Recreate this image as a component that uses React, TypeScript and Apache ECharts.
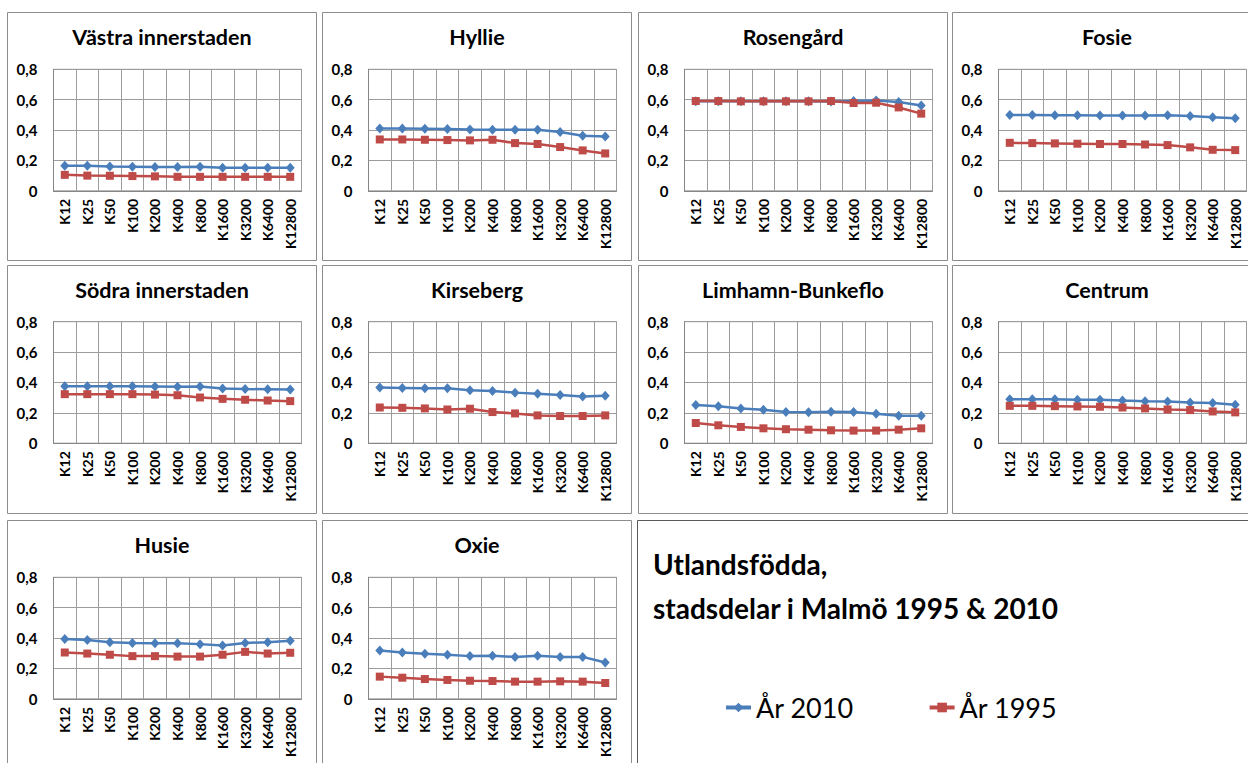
import React, { useEffect, useRef } from 'react';
import * as echarts from 'echarts';

const categories = ['K12', 'K25', 'K50', 'K100', 'K200', 'K400', 'K800', 'K1600', 'K3200', 'K6400', 'K12800'];
const yTickValues = [0, 0.2, 0.4, 0.6, 0.8];
const seriesNames = ['År 2010', 'År 1995'];
const districts = [
  'Västra innerstaden', 'Hyllie', 'Rosengård', 'Fosie',
  'Södra innerstaden', 'Kirseberg', 'Limhamn-Bunkeflo', 'Centrum',
  'Husie', 'Oxie',
];
const mainTitleLines = ['Utlandsfödda,', 'stadsdelar i Malmö 1995 & 2010'];

const vastra2010 = [0.165, 0.165, 0.16, 0.158, 0.156, 0.156, 0.158, 0.152, 0.152, 0.152, 0.152];
const vastra1995 = [0.105, 0.1, 0.099, 0.097, 0.095, 0.092, 0.092, 0.092, 0.092, 0.092, 0.092];
const hyllie2010 = [0.411, 0.411, 0.409, 0.407, 0.404, 0.402, 0.402, 0.402, 0.387, 0.363, 0.358];
const hyllie1995 = [0.338, 0.338, 0.336, 0.334, 0.332, 0.336, 0.314, 0.308, 0.288, 0.266, 0.246];
const rosengard2010 = [0.59, 0.59, 0.59, 0.59, 0.59, 0.59, 0.588, 0.592, 0.595, 0.585, 0.562];
const rosengard1995 = [0.591, 0.591, 0.589, 0.589, 0.589, 0.589, 0.591, 0.578, 0.58, 0.549, 0.508];
const fosie2010 = [0.499, 0.499, 0.497, 0.497, 0.495, 0.495, 0.495, 0.497, 0.492, 0.484, 0.477];
const fosie1995 = [0.316, 0.314, 0.312, 0.31, 0.308, 0.308, 0.305, 0.301, 0.286, 0.27, 0.268];
const sodra2010 = [0.375, 0.375, 0.375, 0.375, 0.373, 0.371, 0.373, 0.36, 0.357, 0.355, 0.353];
const sodra1995 = [0.323, 0.323, 0.323, 0.323, 0.32, 0.316, 0.301, 0.292, 0.286, 0.281, 0.277];
const kirseberg2010 = [0.366, 0.364, 0.362, 0.362, 0.349, 0.344, 0.333, 0.325, 0.318, 0.307, 0.312];
const kirseberg1995 = [0.235, 0.233, 0.229, 0.222, 0.227, 0.205, 0.196, 0.183, 0.179, 0.179, 0.183];
const limhamn2010 = [0.251, 0.244, 0.229, 0.22, 0.205, 0.203, 0.207, 0.205, 0.194, 0.181, 0.181];
const limhamn1995 = [0.133, 0.118, 0.107, 0.098, 0.092, 0.089, 0.085, 0.083, 0.083, 0.089, 0.098];
const centrum2010 = [0.29, 0.29, 0.29, 0.286, 0.286, 0.281, 0.277, 0.275, 0.268, 0.264, 0.253];
const centrum1995 = [0.246, 0.246, 0.244, 0.242, 0.24, 0.235, 0.229, 0.222, 0.218, 0.209, 0.203];
const husie2010 = [0.393, 0.387, 0.373, 0.367, 0.365, 0.365, 0.36, 0.351, 0.367, 0.373, 0.382];
const husie1995 = [0.305, 0.298, 0.29, 0.281, 0.281, 0.278, 0.278, 0.29, 0.309, 0.298, 0.303];
const oxie2010 = [0.318, 0.305, 0.296, 0.29, 0.281, 0.283, 0.276, 0.283, 0.276, 0.276, 0.239];
const oxie1995 = [0.146, 0.139, 0.13, 0.124, 0.119, 0.117, 0.113, 0.113, 0.115, 0.113, 0.104];

const values2010 = [vastra2010, hyllie2010, rosengard2010, fosie2010, sodra2010, kirseberg2010, limhamn2010, centrum2010, husie2010, oxie2010];
const values1995 = [vastra1995, hyllie1995, rosengard1995, fosie1995, sodra1995, kirseberg1995, limhamn1995, centrum1995, husie1995, oxie1995];

// layout (pixels)
const colX = [7.5, 322.5, 638.5, 952.5];
const rowY = [12.5, 265.5, 520.5];
const plotTop = [69.3, 321.7, 577.3];
const panelW = 309;
const panelH = 248;
const plotOffsetX = 46;
const plotW = 248;
const plotH = 121.5;

const BLUE = '#4a7ebb';
const RED = '#be4b48';
const GRID = '#9c9c9c';
const FONT = 'Lato';

function fmt(v: number) {
  return v === 0 ? '0' : v.toFixed(1).replace('.', ',');
}

export default function App() {
  const ref = useRef<HTMLDivElement>(null);
  useEffect(() => {
    const chart = echarts.init(ref.current!, null, { renderer: 'svg' });
    const grids: any[] = [];
    const xAxes: any[] = [];
    const yAxes: any[] = [];
    const series: any[] = [];
    const graphics: any[] = [];

    districts.forEach((name, i) => {
      const r = Math.floor(i / 4);
      const c = i % 4;
      graphics.push({
        type: 'rect',
        shape: { x: colX[c], y: rowY[r], width: panelW, height: panelH },
        style: { fill: 'none', stroke: '#8c8c8c', lineWidth: 1 },
        silent: true,
      });
      graphics.push({
        type: 'text',
        x: colX[c] + panelW / 2,
        y: rowY[r] + 24,
        style: {
          text: name,
          fontFamily: FONT,
          fontWeight: 'bold',
          fontSize: 21.5,
          fill: '#000',
          align: 'center',
          verticalAlign: 'middle',
        },
        silent: true,
      });
      grids.push({
        left: colX[c] + plotOffsetX,
        top: plotTop[r],
        width: plotW,
        height: plotH,
        show: true,
        borderColor: GRID,
        borderWidth: 1,
        backgroundColor: 'transparent',
      });
      xAxes.push({
        type: 'category',
        gridIndex: i,
        data: categories,
        boundaryGap: true,
        axisLine: { show: true, lineStyle: { color: '#868686', width: 1 } },
        axisTick: { show: false },
        splitLine: { show: true, interval: 0, lineStyle: { color: GRID, width: 1 } },
        axisLabel: {
          interval: 0,
          rotate: 90,
          margin: 8,
          fontFamily: FONT,
          fontWeight: 'bold',
          fontSize: 14,
          color: '#000',
        },
      });
      yAxes.push({
        type: 'value',
        gridIndex: i,
        min: yTickValues[0],
        max: yTickValues[yTickValues.length - 1],
        interval: 0.2,
        axisLine: { show: true, lineStyle: { color: '#868686', width: 1 } },
        axisTick: { show: false },
        splitLine: { show: true, lineStyle: { color: GRID, width: 1 } },
        axisLabel: {
          margin: 16,
          fontFamily: FONT,
          fontWeight: 'bold',
          fontSize: 15,
          color: '#000',
          formatter: fmt,
        },
      });
      series.push({
        name: seriesNames[0],
        type: 'line',
        xAxisIndex: i,
        yAxisIndex: i,
        data: values2010[i],
        symbol: 'diamond',
        symbolSize: [9, 10],
        lineStyle: { color: BLUE, width: 2.5 },
        itemStyle: { color: BLUE },
      });
      series.push({
        name: seriesNames[1],
        type: 'line',
        xAxisIndex: i,
        yAxisIndex: i,
        data: values1995[i],
        symbol: 'rect',
        symbolSize: 8,
        lineStyle: { color: RED, width: 2.5 },
        itemStyle: { color: RED },
      });
    });

    graphics.push({
      type: 'rect',
      shape: { x: 637.5, y: 520.5, width: 640, height: 260 },
      style: { fill: 'none', stroke: '#5a5a5a', lineWidth: 1 },
      silent: true,
    });
    mainTitleLines.forEach((line, k) => {
      graphics.push({
        type: 'text',
        x: 653,
        y: 564 + k * 43.5,
        style: {
          text: line,
          fontFamily: FONT,
          fontWeight: 'bold',
          fontSize: 28,
          fill: '#000',
          align: 'left',
          verticalAlign: 'middle',
        },
        silent: true,
      });
    });

    const option: any = {
      animation: false,
      backgroundColor: '#fff',
      grid: grids,
      xAxis: xAxes,
      yAxis: yAxes,
      series,
      graphic: graphics,
      legend: {
        data: seriesNames,
        left: 724,
        top: 694,
        padding: 0,
        itemWidth: 25,
        itemHeight: 12,
        itemGap: 74,
        lineStyle: { width: 4 },
        textStyle: { fontFamily: FONT, fontSize: 27, color: '#000' },
      },
    };
    chart.setOption(option);
    return () => chart.dispose();
  }, []);
  return (
    <div
      ref={ref}
      style={{ position: 'fixed', left: 0, top: 0, width: 1248, height: 763, background: '#fff' }}
    />
  );
}
